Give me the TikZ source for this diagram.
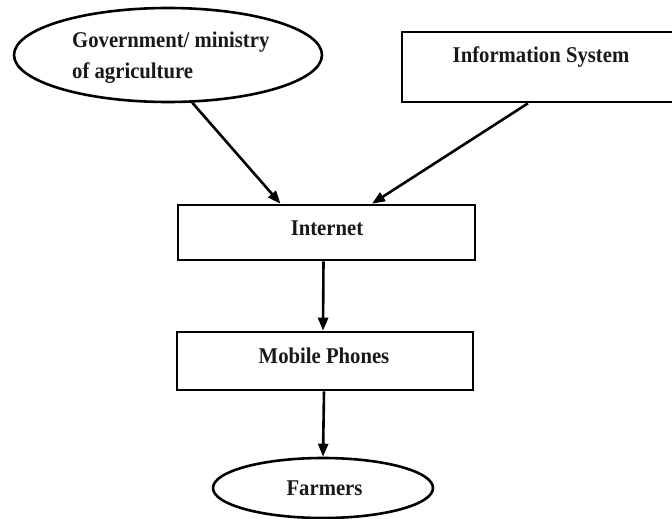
\documentclass[tikz,border=0pt]{standalone}
\usepackage{fontspec}
\setmainfont[FakeStretch=0.92]{Liberation Serif}
\usetikzlibrary{shapes.geometric,arrows.meta,calc}
\begin{document}
\begin{tikzpicture}[x=1pt,y=-1pt,
  shapeline/.style={draw=black,line width=2.6pt,fill=none,inner sep=0pt},
  boxshape/.style={shapeline,rectangle},
  ovalshape/.style={shapeline,ellipse},
  lbl/.style={font=\fontsize{22.5}{30}\selectfont\bfseries,anchor=base,inner sep=0pt,text=black!90},
  conn/.style={line width=2.6pt,-{Triangle[length=13pt,width=10pt]}}]
\useasboundingbox (0,0) rectangle (672,519);
% shapes
\node[ovalshape,minimum width=308pt,minimum height=94pt] (gov) at (168,55) {};
\node[boxshape,minimum width=290pt,minimum height=70pt] (info) at (547,67) {};
\node[boxshape,minimum width=297pt,minimum height=55pt] (inet) at (326.5,232.5) {};
\node[boxshape,minimum width=296pt,minimum height=58pt] (mob) at (325,361) {};
\node[ovalshape,minimum width=220pt,minimum height=60pt] (farm) at (323,488) {};
% labels
\node[lbl,anchor=base west] (govA) at (72,48) {Government/ ministry};
\node[lbl,anchor=base west] (govB) at (72,78) {of agriculture};
\node[lbl] (infoT) at (541,63) {Information System};
\node[lbl] (inetT) at (327,235) {Internet};
\node[lbl] (mobT) at (324,363) {Mobile Phones};
\node[lbl] (farmT) at (324.5,495) {Farmers};
% connectors
\draw[conn] (gov.-63) -- ($(inet.north)+(-46,0)$);
\draw[conn] ($(info.south)+(-19,0)$) -- ($(inet.north)+(45.5,0)$);
\draw[conn] ($(inet.south)+(-3,0)$) -- ($(mob.north)+(-2,0)$);
\draw[conn] ($(mob.south)+(-1,0)$) -- (farm.north);
\end{tikzpicture}
\end{document}
